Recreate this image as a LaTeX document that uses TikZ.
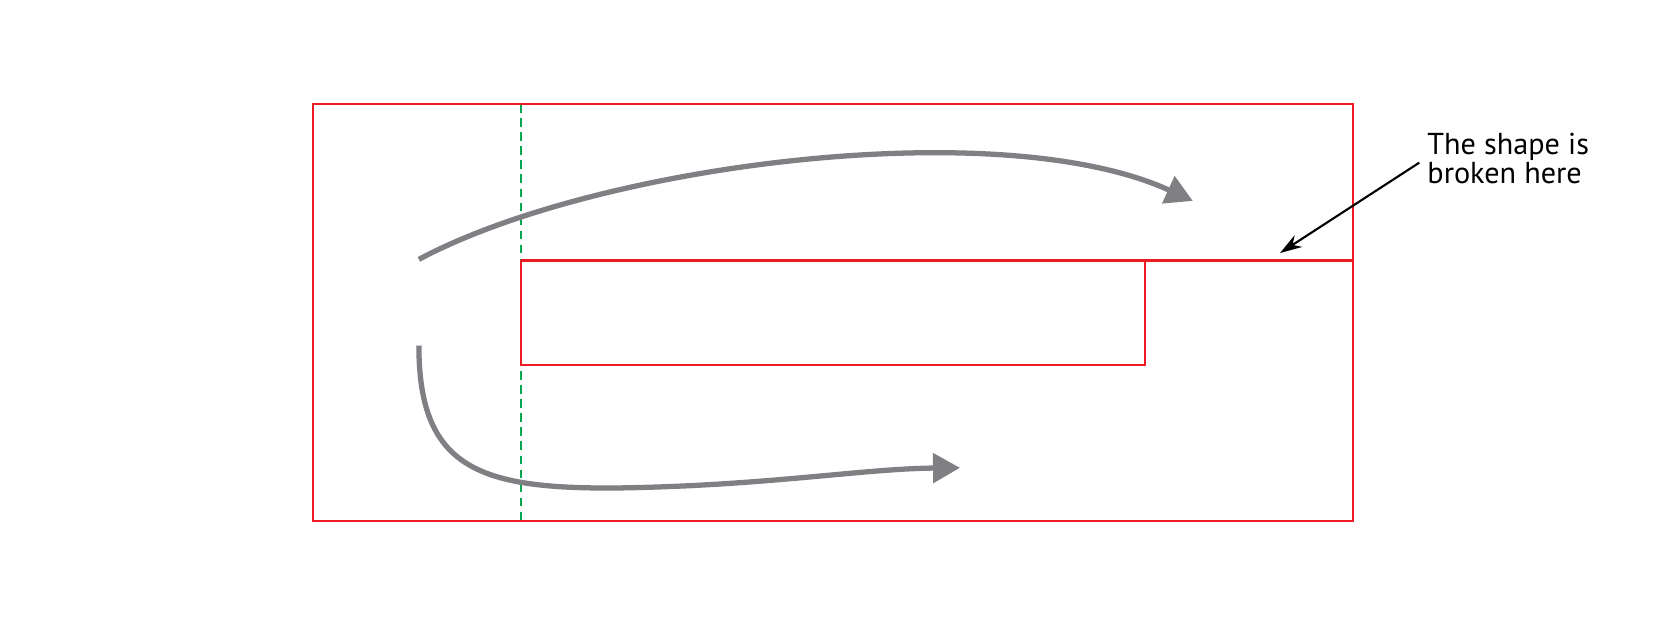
\documentclass[tikz,border=0pt]{standalone}
\usepackage{fontspec}
\setmainfont{PT Sans}
\usetikzlibrary{arrows.meta}
\definecolor{shapered}{HTML}{ED1C24}
\definecolor{cutgreen}{HTML}{00A651}
\definecolor{flowgray}{HTML}{7F7F84}
\tikzset{
	outline/.style={draw=shapered, line width=0.6pt},
	cutline/.style={draw=cutgreen, line width=0.6pt, dash pattern=on 2.4pt off 1.6pt},
	flow/.style={draw=flowgray, line width=1.5pt, -{Triangle[length=0.27cm,width=0.29cm,fill=flowgray]}},
	note/.style={draw=black, line width=0.6pt, -{Stealth[length=0.22cm,width=0.14cm]}}
}
\begin{document}
\begin{tikzpicture}[x=0.010631cm,y=-0.010631cm]
		\useasboundingbox (0,0) rectangle (1568,588);

		% Cut line
		\coordinate (C1) at (490,98);
		\coordinate (C2) at (490,490);
		\draw[cutline] (C1) -- (C2);

		% Outer shape
		\coordinate (O1) at (294,98);
		\coordinate (O2) at (1273,490);
		\draw[outline] (O1) rectangle (O2);

		% Slot
		\coordinate (S1) at (490,245);
		\coordinate (S2) at (1273,245);
		\coordinate (S3) at (490,343);
		\coordinate (S4) at (1077,343);
		\coordinate (S5) at (1077,245);
		\draw[outline] (S1) -- (S2);
		\draw[outline] (S1) -- (S3) -- (S4) -- (S5);

		% Upper flow
		\coordinate (U1) at (394,244);
		\coordinate (U2) at (1122,189);
		\draw[flow] (U1) .. controls (560,155) and (940,106) .. (U2);

		% Lower flow
		\coordinate (L1) at (394,325);
		\coordinate (L2) at (580,459);
		\coordinate (L3) at (903,440);
		\draw[flow] (L1) .. controls (394,440) and (450,460) .. (L2)
			.. controls (720,457) and (810,441) .. (L3);

		% Note
		\node[align=left, anchor=west, inner sep=0pt, font=\fontsize{8.6pt}{8.4pt}\selectfont] (note) at (1342,149) {The shape is\\broken here};
		\coordinate (N1) at (1335,153);
		\coordinate (N2) at (1204,238);
		\draw[note] (N1) -- (N2);
	\end{tikzpicture}
\end{document}
